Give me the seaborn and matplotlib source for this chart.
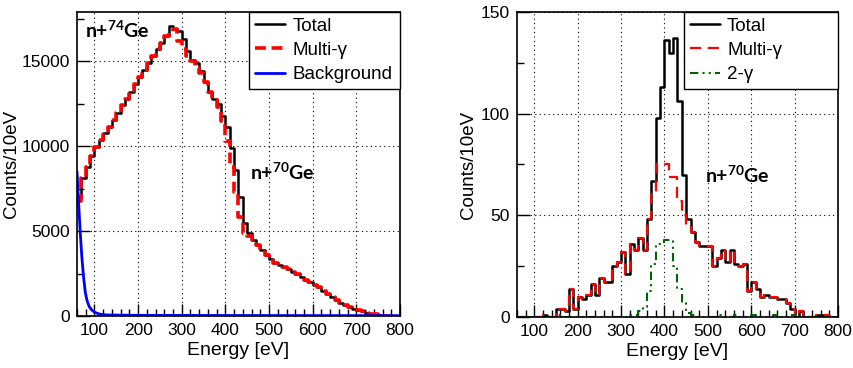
import numpy as np
import pandas as pd
import matplotlib
matplotlib.use('Agg')
import matplotlib.pyplot as plt
from matplotlib.lines import Line2D
from matplotlib.ticker import MultipleLocator
import seaborn as sns

# 10 eV bins, 60 -> 800 eV
edges = np.arange(60, 810, 10)
centers = edges[:-1] + 5

# Left panel: n+74Ge spectrum (counts per 10 eV bin, bins starting at 60 eV)
left_total = [7000, 8100, 8800, 9400, 9950, 10350, 10750, 11150, 11550, 11950,
              12400, 12800, 13200, 13650, 14050, 14500, 14900, 15300, 15700, 16100,
              16500, 17050, 16900, 16800, 16300, 15600, 15100, 14900, 14400, 13800,
              13200, 12800, 12500, 11800, 11100, 9900, 8600, 7000, 5500, 4900,
              4500, 4200, 3900, 3600, 3350, 3150, 3000, 2870, 2750, 2600,
              2450, 2300, 2130, 1980, 1850, 1700, 1500, 1300, 1140, 950,
              790, 640, 510, 420, 350, 270, 200, 140, 90, 50,
              25, 10, 0, 0]
left_multi = [6800, 8100, 8800, 9400, 9950, 10350, 10750, 11150, 11550, 11950,
              12400, 12800, 13200, 13650, 14050, 14500, 14900, 15300, 15700, 16100,
              16500, 16700, 16900, 16200, 15700, 15300, 15000, 14600, 14300, 13800,
              13200, 12700, 12300, 11500, 10300, 8800, 7300, 5800, 4900, 4700,
              4450, 4200, 3900, 3600, 3350, 3150, 3000, 2870, 2750, 2600,
              2450, 2300, 2130, 1980, 1850, 1700, 1500, 1300, 1140, 950,
              790, 640, 510, 420, 350, 270, 200, 140, 90, 50,
              25, 10, 0, 0]
bg_energy = [60, 63, 67, 71, 75, 79, 83, 88, 94, 100, 113, 130, 200, 400, 800]
bg_counts = [8500, 7000, 5100, 3500, 2300, 1400, 900, 550, 350, 220, 100, 60, 40, 30, 20]

# Right panel: n+70Ge resonance
right_total = [0, 0, 0, 0, 0, 0, 1, 0, 0, 4,
               4, 3, 14, 4, 10, 9, 11, 16, 11, 19,
               17, 17, 25, 27, 32, 21, 36, 33, 39, 33,
               48, 67, 98, 113, 136, 130, 137, 106, 70, 48,
               42, 37, 35, 35, 35, 25, 29, 33, 27, 33,
               26, 25, 26, 13, 17, 14, 10, 11, 10, 10,
               9, 9, 7, 4, 0, 3, 0, 0, 0, 1,
               1, 1, 0, 0]
right_multi = [0, 0, 0, 0, 0, 0, 1, 0, 0, 4,
               4, 3, 14, 4, 10, 9, 11, 16, 11, 19,
               17, 17, 25, 27, 32, 21, 36, 33, 39, 33,
               48, 61, 75, 75, 75, 69, 69, 57, 50, 45,
               42, 37, 35, 35, 35, 25, 29, 33, 27, 33,
               26, 25, 26, 13, 17, 14, 10, 11, 10, 10,
               9, 9, 7, 4, 0, 3, 0, 0, 0, 1,
               1, 1, 0, 0]
right_two = [0, 0, 0, 0, 0, 0, 0, 0, 0, 1,
             0, 0, 0, 0, 0, 0, 0, 0, 0, 0,
             0, 0, 0, 0, 0, 0, 1, 1, 3, 5,
             13, 26, 36, 36, 38, 38, 25, 14, 7, 2,
             1, 0, 0, 0, 0, 0, 1, 0, 0, 0,
             1, 0, 0, 0, 1, 0, 0, 0, 0, 1,
             0, 0, 0, 1, 0, 0, 0, 0, 0, 0,
             0, 0, 0, 0]

sns.set_theme(style='ticks')
plt.rcParams['font.family'] = ['Liberation Sans', 'DejaVu Sans']
plt.rcParams['text.color'] = 'black'
plt.rcParams['axes.labelcolor'] = 'black'
plt.rcParams['mathtext.fontset'] = 'custom'
plt.rcParams['mathtext.bf'] = 'Lato:bold'
plt.rcParams['mathtext.rm'] = 'Lato'

fig = plt.figure(figsize=(8.54, 3.68), dpi=100)
ax1 = fig.add_axes([77 / 854, 1 - 316 / 368, 323 / 854, 304 / 368])
ax2 = fig.add_axes([517 / 854, 1 - 317 / 368, 321 / 854, 305 / 368])

red_dash = (0, (3, 1.6))
green_dash = (0, (4, 2, 1, 2, 1, 2))


def step(ax, vals, color, ls, lw):
    df = pd.DataFrame({'energy': centers, 'counts': vals})
    sns.histplot(data=df, x='energy', weights='counts', bins=list(edges), element='step',
                 fill=False, color=color, linestyle=ls, linewidth=lw, ax=ax)


step(ax1, left_total, 'black', '-', 1.8)
step(ax1, left_multi, 'red', red_dash, 2.6)
sns.lineplot(x=bg_energy, y=bg_counts, color='blue', linewidth=2, ax=ax1)

step(ax2, right_total, 'black', '-', 1.8)
step(ax2, right_multi, 'red', (0, (5, 3)), 1.6)
step(ax2, right_two, '#006400', green_dash, 1.5)

for ax in (ax1, ax2):
    ax.set_xlim(60, 800)
    ax.set_xticks(np.arange(100, 801, 100))
    ax.xaxis.set_minor_locator(MultipleLocator(20))
    ax.tick_params(which='both', direction='in', top=False, right=False,
                   labelsize=12.5, color='black', labelcolor='black')
    ax.tick_params(which='major', length=9, width=1, pad=5)
    ax.tick_params(which='minor', length=5, width=1)
    ax.grid(True, which='major', linestyle=(0, (1, 3)), color='black', linewidth=0.8)
    for s in ax.spines.values():
        s.set_linewidth(1.2)
        s.set_color('black')
    ax.set_xlabel('Energy [eV]', fontsize=14)
    ax.set_ylabel('Counts/10eV', fontsize=13.5)
    ax.xaxis.set_label_coords(0.5, -0.085)

ax1.set_ylim(0, 17900)
ax1.set_yticks([0, 5000, 10000, 15000])
ax1.yaxis.set_minor_locator(MultipleLocator(2500))
ax1.yaxis.set_label_coords(-0.175, 0.5)

ax2.set_ylim(0, 150)
ax2.set_yticks([0, 50, 100, 150])
ax2.yaxis.set_minor_locator(MultipleLocator(25))
ax2.yaxis.set_label_coords(-0.125, 0.5)

leg_kw = dict(loc='upper left', mode='expand', frameon=True, fancybox=False,
              framealpha=1, edgecolor='black', fontsize=13.5, borderaxespad=0,
              handlelength=1.6, handletextpad=0.4, labelspacing=0.38, borderpad=0.3)
h1 = [Line2D([], [], color='black', lw=1.8),
      Line2D([], [], color='red', lw=2.6, ls=red_dash),
      Line2D([], [], color='blue', lw=2)]
leg1 = ax1.legend(h1, ['Total', 'Multi-γ', 'Background'],
                  bbox_to_anchor=(0.533, 0.0, 0.467, 1.0), **leg_kw)
h2 = [Line2D([], [], color='black', lw=1.8),
      Line2D([], [], color='red', lw=1.6, ls=(0, (5, 3))),
      Line2D([], [], color='#006400', lw=1.5, ls=green_dash)]
leg2 = ax2.legend(h2, ['Total', 'Multi-γ', '2-γ'],
                  bbox_to_anchor=(0.52, 0.0, 0.48, 1.0), **leg_kw)
for leg in (leg1, leg2):
    leg.get_frame().set_linewidth(1)

lab_kw = dict(fontsize=14, fontweight='bold', family='Lato', ha='left', va='center')
ax1.text(0.025, 0.94, r'n+$\mathbf{^{74}}$Ge', transform=ax1.transAxes, **lab_kw)
ax1.text(0.536, 0.474, r'n+$\mathbf{^{70}}$Ge', transform=ax1.transAxes, **lab_kw)
ax2.text(0.586, 0.466, r'n+$\mathbf{^{70}}$Ge', transform=ax2.transAxes, **lab_kw)

fig.savefig('out.png', dpi=100)
